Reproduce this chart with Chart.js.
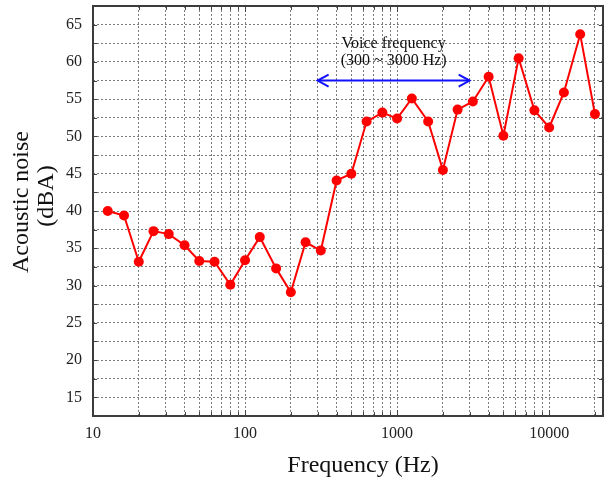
<!DOCTYPE html>
<html>
<head>
<meta charset="utf-8">
<script src="https://cdn.jsdelivr.net/npm/chart.js@4.4.1/dist/chart.umd.min.js"></script>
<style>
  body { margin: 0; background: #fff; }
  canvas { display: block; }
</style>
</head>
<body>
<canvas id="noiseChart" width="608" height="479"></canvas>
<script>
// 1/3 octave band centre frequencies (Hz)
const frequencies = [12.5, 16, 20, 25, 31.5, 40, 50, 63, 80,
    100, 125, 160, 200, 250, 315, 400, 500, 630, 800,
    1000, 1250, 1600, 2000, 2500, 3150, 4000, 5000, 6300, 8000,
    10000, 12500, 16000, 20000];
// acoustic noise (dBA)
const noise = [40.0, 39.4, 33.2, 37.3, 36.9, 35.4, 33.3, 33.2, 30.1,
    33.4, 36.5, 32.3, 29.1, 35.8, 34.7, 44.1, 45.0, 52.0, 53.2,
    52.4, 55.1, 52.0, 45.5, 53.6, 54.7, 58.0, 50.1, 60.5, 53.5,
    51.2, 55.9, 63.7, 53.0];

// voice band arrow
const voiceBand = [300, 3000];
const voiceLevel = 57.5;

const xTickLabels = [10, 100, 1000, 10000];
const yTickLabels = [15, 20, 25, 30, 35, 40, 45, 50, 55, 60, 65];

const serif = '"Liberation Serif", "Times New Roman", serif';

const framePlugin = {
    id: 'frame',
    afterDatasetsDraw(chart) {
        const ctx = chart.ctx;

        // arrow heads on the voice band line
        const pts = chart.getDatasetMeta(1).data;
        ctx.save();
        ctx.strokeStyle = '#1010ff';
        ctx.lineWidth = 2;
        [[pts[0], 1], [pts[1], -1]].forEach(function (p) {
            const px = p[0].x, py = p[0].y, d = p[1];
            ctx.beginPath();
            ctx.moveTo(px + d * 11, py - 6);
            ctx.lineTo(px, py);
            ctx.lineTo(px + d * 11, py + 6);
            ctx.stroke();
        });

        // label above the arrow
        const cx = (pts[0].x + pts[1].x) / 2;
        ctx.fillStyle = '#111';
        ctx.font = '16px ' + serif;
        ctx.textAlign = 'center';
        ctx.textBaseline = 'middle';
        ctx.fillText('Voice frequency', cx, pts[0].y - 37);
        ctx.fillText('(300 ~ 3000 Hz)', cx, pts[0].y - 20);
        ctx.restore();
    },
    afterDraw(chart) {
        const ctx = chart.ctx;
        const a = chart.chartArea;
        const x = chart.scales.x;
        const y = chart.scales.y;
        ctx.save();

        // small inward tick marks
        ctx.strokeStyle = '#444';
        ctx.lineWidth = 1;
        ctx.beginPath();
        y.ticks.forEach(function (t) {
            const py = Math.round(y.getPixelForValue(t.value)) + 0.5;
            ctx.moveTo(a.left, py); ctx.lineTo(a.left + 4, py);
            ctx.moveTo(a.right, py); ctx.lineTo(a.right - 4, py);
        });
        x.ticks.forEach(function (t) {
            const px = Math.round(x.getPixelForValue(t.value)) + 0.5;
            const len = xTickLabels.includes(t.value) ? 6 : 4;
            ctx.moveTo(px, a.bottom); ctx.lineTo(px, a.bottom - len);
            ctx.moveTo(px, a.top); ctx.lineTo(px, a.top + len);
        });
        ctx.stroke();

        // plot frame
        ctx.strokeStyle = '#3c3c3c';
        ctx.lineWidth = 2;
        ctx.strokeRect(a.left, a.top, a.right - a.left, a.bottom - a.top);

        // axis titles
        ctx.fillStyle = '#111';
        ctx.font = '24px ' + serif;
        ctx.textAlign = 'center';
        ctx.textBaseline = 'alphabetic';
        ctx.fillText('Frequency (Hz)', 363, 472);

        ctx.translate(28, 202);
        ctx.rotate(-Math.PI / 2);
        ctx.fillText('Acoustic noise', 0, 0);
        ctx.fillText('(dBA)', 6, 25);
        ctx.restore();
    }
};

const chartNoise = function (id) {
    let ctx = document.getElementById(id).getContext('2d');
    var myChart = new Chart(ctx, {
        type: 'line',
        data: {
            datasets: [
                {
                    label: 'Acoustic noise',
                    data: frequencies.map(function (f, i) { return {x: f, y: noise[i]}; }),
                    borderColor: '#ff0000',
                    backgroundColor: '#ff0000',
                    borderWidth: 2,
                    pointRadius: 5,
                    pointBorderWidth: 0,
                    tension: 0
                },
                {
                    label: 'Voice frequency',
                    data: voiceBand.map(function (f) { return {x: f, y: voiceLevel}; }),
                    borderColor: '#1010ff',
                    borderWidth: 2,
                    pointRadius: 0
                }
            ]
        },
        options: {
            responsive: false,
            animation: false,
            devicePixelRatio: 1,
            layout: { padding: { top: 6, right: 4, left: 0, bottom: 0 } },
            plugins: {
                legend: { display: false },
                tooltip: { enabled: false }
            },
            scales: {
                x: {
                    type: 'logarithmic',
                    min: 10,
                    max: 22600,
                    afterBuildTicks: function (scale) {
                        const ticks = [];
                        for (let e = 1; e <= 4; e++) {
                            for (let m = 1; m <= 9; m++) {
                                const v = m * Math.pow(10, e);
                                if (v >= scale.min && v <= scale.max) ticks.push({value: v});
                            }
                        }
                        scale.ticks = ticks;
                    },
                    afterFit: function (scale) {
                        scale.height = 63;
                        scale.paddingLeft = 0;
                        scale.paddingRight = 0;
                    },
                    ticks: {
                        autoSkip: false,
                        maxRotation: 0,
                        minRotation: 0,
                        padding: 8,
                        color: '#222',
                        font: { family: serif, size: 16 },
                        callback: function (value) {
                            return xTickLabels.includes(value) ? String(value) : '';
                        }
                    },
                    grid: { color: '#7a7a7a', lineWidth: 1, drawTicks: false },
                    border: { display: false, dash: [2, 2] }
                },
                y: {
                    min: 12.5,
                    max: 67.5,
                    afterFit: function (scale) {
                        scale.width = 93;
                        scale.paddingTop = 0;
                        scale.paddingBottom = 0;
                    },
                    ticks: {
                        stepSize: 2.5,
                        autoSkip: false,
                        padding: 11,
                        color: '#222',
                        font: { family: serif, size: 16 },
                        callback: function (value) {
                            return yTickLabels.includes(value) ? String(value) : '';
                        }
                    },
                    grid: { color: '#7a7a7a', lineWidth: 1, drawTicks: false },
                    border: { display: false, dash: [2, 2] }
                }
            }
        },
        plugins: [framePlugin]
    });
};

chartNoise('noiseChart');
</script>
</body>
</html>
